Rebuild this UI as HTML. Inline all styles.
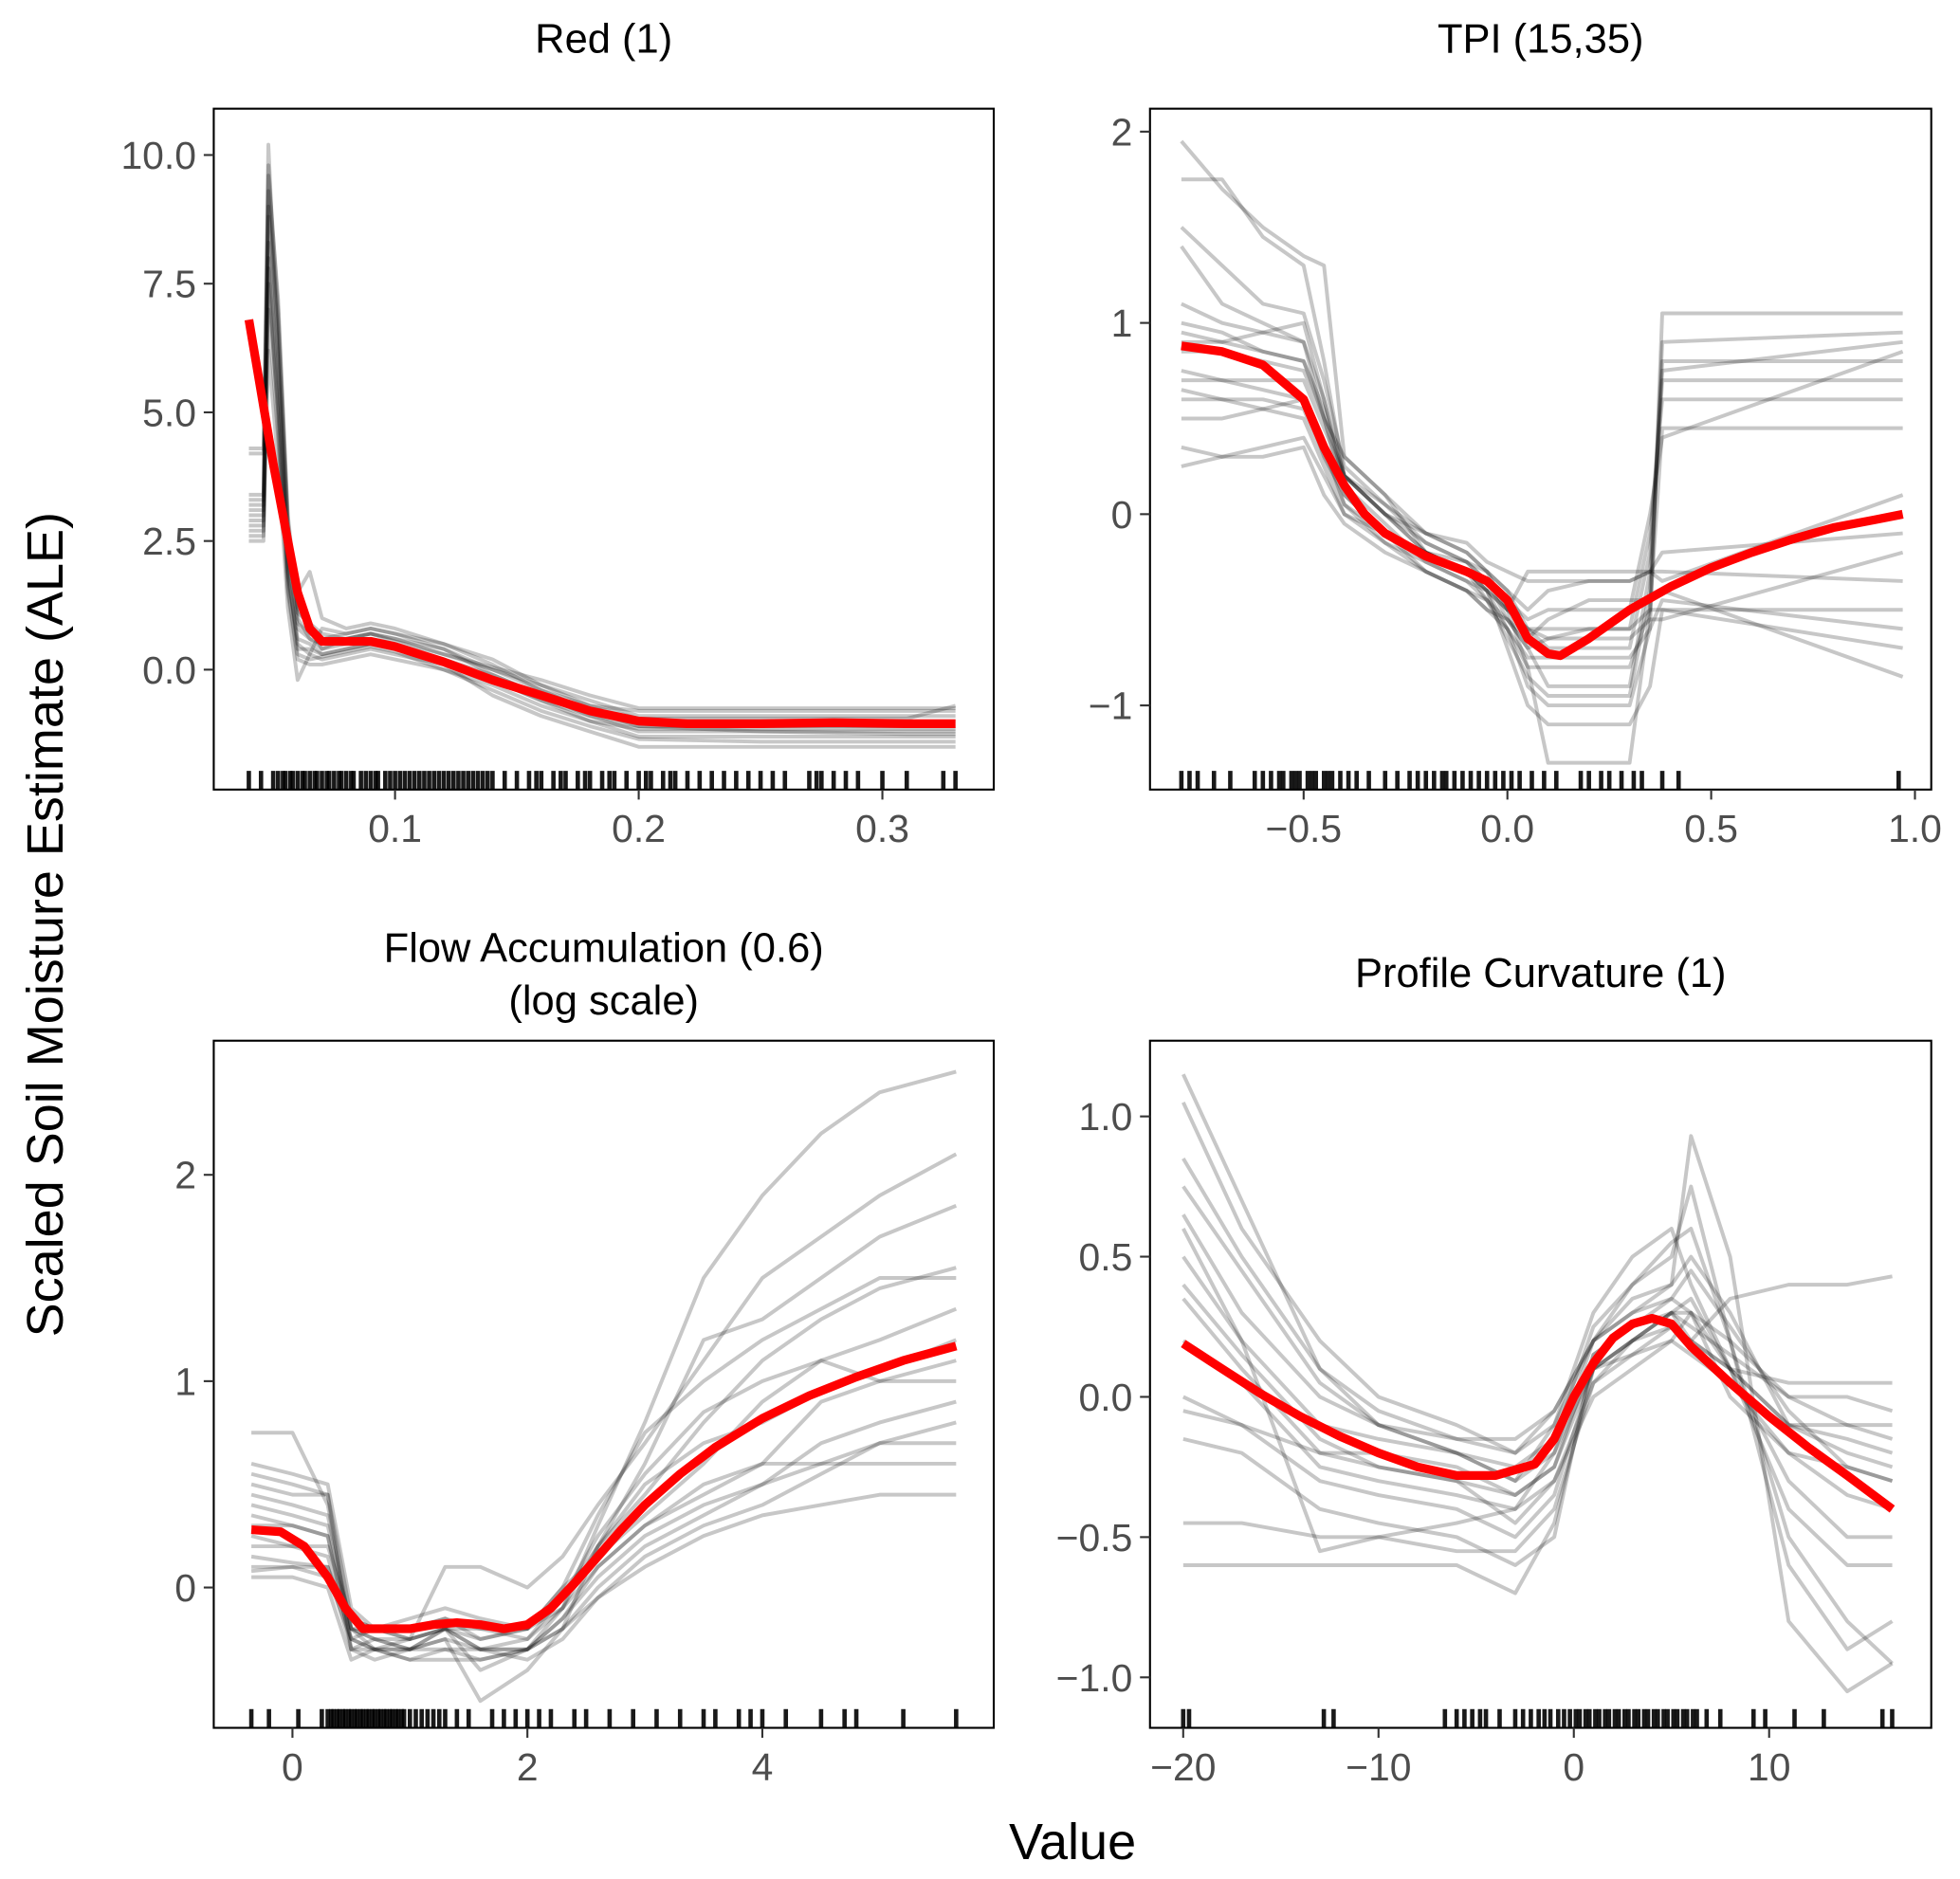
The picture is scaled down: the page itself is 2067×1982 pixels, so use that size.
<!DOCTYPE html>
<html><head><meta charset="utf-8"><style>
html,body{margin:0;padding:0;background:#fff;}
svg{display:block;}
text{font-family:"Liberation Sans","DejaVu Sans",sans-serif;}
</style></head><body>
<svg id="chart" width="2067" height="1982" viewBox="0 0 1568 1504" preserveAspectRatio="none" xmlns="http://www.w3.org/2000/svg">
<text x="50" y="740" font-size="41" text-anchor="middle" fill="#000" transform="rotate(-90 50 740)">Scaled Soil Moisture Estimate (ALE)</text>
<text x="858" y="1488" font-size="41" text-anchor="middle" fill="#000">Value</text>
</svg>
<script>
// ---------- Panel 1: Red (1) ----------
const p1Ticks=[0,2.5,5,7.5,10]; const p1TickLabels=["0.0","2.5","5.0","7.5","10.0"];
const p1XTicks=[0.1,0.2,0.3]; const p1XTickLabels=["0.1","0.2","0.3"];
const p1RedX=[0.04,0.05,0.06,0.065,0.07,0.08,0.09,0.1,0.12,0.14,0.16,0.18,0.2,0.22,0.25,0.28,0.31,0.33];
const p1RedY=[6.8,4,1.5,0.8,0.55,0.55,0.55,0.45,0.15,-0.2,-0.5,-0.8,-1.0,-1.05,-1.05,-1.03,-1.05,-1.05];
const p1GrayX=[0.04,0.046,0.048,0.052,0.056,0.06,0.065,0.07,0.08,0.09,0.1,0.12,0.14,0.16,0.18,0.2,0.25,0.31,0.33];
const p1Gray=[
[4.3,4.3,10.2,6,2.5,1.0,0.6,0.5,0.6,0.7,0.6,0.4,0.0,-0.3,-0.6,-0.9,-0.9,-0.9,-0.9],
[3.3,3.3,9.6,7.2,3,1.2,0.8,0.4,0.5,0.6,0.5,0.2,-0.1,-0.5,-0.8,-1.0,-1.0,-1.0,-1.0],
[3.0,3.0,8.3,5.5,2.0,0.5,0.3,0.2,0.3,0.4,0.3,0.1,-0.2,-0.6,-0.9,-1.1,-1.2,-1.2,-1.2],
[2.8,2.8,7.0,4.5,1.5,0.2,0.1,0.1,0.2,0.3,0.2,0.0,-0.3,-0.7,-1.0,-1.3,-1.3,-1.3,-1.3],
[2.6,2.6,6.2,4,1.2,-0.2,0.3,0.8,0.7,0.8,0.7,0.5,0.2,-0.3,-0.7,-0.8,-0.8,-0.8,-0.8],
[3.2,3.2,9.0,6.5,2.8,1.5,1.9,1.0,0.8,0.9,0.8,0.5,0.1,-0.4,-0.7,-0.95,-0.95,-0.95,-0.7],
[2.5,2.5,7.5,5,1.8,0.6,0.5,0.3,0.4,0.5,0.4,0.1,-0.5,-0.9,-1.2,-1.5,-1.5,-1.5,-1.5],
[4.2,4.2,8.8,6,2.2,0.8,0.6,0.4,0.6,0.7,0.6,0.3,0.0,-0.4,-0.8,-1.1,-1.1,-1.1,-1.1],
[3.1,3.1,9.3,6.8,2.6,0.9,0.7,0.6,0.7,0.8,0.7,0.4,-0.1,-0.5,-0.9,-1.2,-1.2,-1.25,-1.25],
[2.9,2.9,8.0,5.2,1.9,0.4,0.4,0.3,0.4,0.5,0.45,0.2,-0.2,-0.6,-1.0,-1.15,-1.15,-1.15,-1.15],
[3.4,3.4,9.8,7.0,2.9,1.1,0.9,0.7,0.6,0.7,0.55,0.3,0.05,-0.2,-0.5,-0.75,-0.75,-0.75,-0.75],
[2.7,2.7,7.8,4.8,1.6,0.3,0.2,0.25,0.35,0.45,0.35,0.0,-0.4,-0.8,-1.1,-1.35,-1.4,-1.4,-1.4]];
const p1Rug=[0.04,0.045,0.05,0.052,0.054,0.055,0.057,0.058,0.06,0.062,0.063,0.065,0.067,0.068,0.07,0.072,0.073,0.075,0.077,0.078,0.08,0.082,0.083,0.086,0.088,0.09,0.092,0.093,0.096,0.098,0.1,0.102,0.104,0.106,0.108,0.11,0.112,0.114,0.116,0.118,0.12,0.122,0.124,0.126,0.128,0.13,0.132,0.134,0.136,0.138,0.14,0.145,0.15,0.155,0.158,0.16,0.165,0.168,0.17,0.175,0.178,0.18,0.185,0.188,0.19,0.195,0.2,0.203,0.205,0.21,0.213,0.215,0.22,0.225,0.23,0.235,0.24,0.245,0.25,0.255,0.26,0.27,0.273,0.275,0.28,0.285,0.29,0.3,0.31,0.325,0.33];

// ---------- Panel 2: TPI ----------
const p2Ticks=[-1,0,1,2]; const p2TickLabels=["\u22121","0","1","2"];
const p2XTicks=[-0.5,0,0.5,1]; const p2XTickLabels=["\u22120.5","0.0","0.5","1.0"];
const p2RedX=[-0.8,-0.7,-0.6,-0.5,-0.45,-0.4,-0.35,-0.3,-0.2,-0.1,-0.05,0,0.05,0.1,0.13,0.2,0.3,0.4,0.5,0.6,0.7,0.8,0.9,0.97];
const p2RedY=[0.88,0.85,0.78,0.6,0.35,0.15,0.0,-0.1,-0.22,-0.3,-0.35,-0.45,-0.65,-0.73,-0.74,-0.65,-0.5,-0.38,-0.28,-0.2,-0.13,-0.07,-0.03,0.0];
const p2GrayX=[-0.8,-0.7,-0.6,-0.5,-0.45,-0.4,-0.3,-0.2,-0.1,-0.05,0,0.05,0.1,0.2,0.3,0.35,0.38,0.97];
const p2Gray=[
[1.95,1.7,1.5,1.35,1.3,0.3,0.1,-0.2,-0.3,-0.4,-0.6,-0.9,-1.0,-1.0,-1.0,-0.6,1.05,1.05],
[1.75,1.75,1.45,1.3,0.8,0.2,0.0,-0.1,-0.2,-0.3,-0.5,-0.8,-1.3,-1.3,-1.3,-0.5,0.9,0.95],
[1.4,1.1,1.0,0.9,0.5,0.3,0.1,-0.1,-0.2,-0.3,-0.4,-0.6,-0.7,-0.7,-0.7,-0.2,0.75,0.9],
[1.1,1.0,0.95,0.9,0.6,0.2,0.0,-0.2,-0.25,-0.35,-0.5,-0.6,-0.6,-0.6,-0.6,-0.1,0.6,0.6],
[0.9,0.9,0.85,0.8,0.5,0.1,-0.1,-0.2,-0.3,-0.35,-0.45,-0.55,-0.5,-0.5,-0.5,0.0,0.4,0.85],
[0.6,0.6,0.6,0.55,0.3,0.1,-0.1,-0.3,-0.4,-0.5,-0.6,-0.8,-0.8,-0.8,-0.8,-0.5,0.45,0.45],
[0.35,0.3,0.35,0.4,0.2,0.0,-0.1,-0.2,-0.3,-0.4,-0.5,-0.3,-0.3,-0.3,-0.3,-0.3,-0.35,0.1],
[0.25,0.3,0.3,0.35,0.1,-0.05,-0.2,-0.3,-0.4,-0.5,-0.55,-0.65,-0.55,-0.45,-0.45,-0.45,-0.4,-0.85],
[0.75,0.7,0.65,0.6,0.3,0.05,-0.1,-0.2,-0.3,-0.45,-0.6,-0.75,-0.75,-0.75,-0.75,-0.6,-0.45,-0.6],
[0.85,0.85,0.8,0.75,0.5,0.2,0.0,-0.15,-0.25,-0.3,-0.4,-0.5,-0.4,-0.35,-0.35,-0.3,-0.2,-0.1],
[1.0,0.95,0.85,0.8,0.55,0.2,0.05,-0.1,-0.15,-0.25,-0.3,-0.35,-0.35,-0.35,-0.35,-0.3,-0.3,-0.35],
[0.7,0.7,0.7,0.7,0.45,0.2,0.0,-0.2,-0.3,-0.4,-0.7,-1.0,-1.1,-1.1,-1.1,-0.9,-0.5,-0.7],
[1.5,1.3,1.1,1.05,0.7,0.25,0.05,-0.15,-0.25,-0.35,-0.55,-0.7,-0.9,-0.9,-0.9,-0.3,0.7,0.7],
[0.95,0.9,0.95,1.0,0.6,0.15,-0.05,-0.25,-0.35,-0.45,-0.65,-0.85,-0.95,-0.95,-0.95,-0.4,0.8,0.8],
[0.5,0.5,0.55,0.6,0.35,0.05,-0.15,-0.3,-0.4,-0.45,-0.55,-0.7,-0.65,-0.6,-0.6,-0.5,-0.5,-0.5],
[0.65,0.6,0.55,0.5,0.25,0.0,-0.15,-0.25,-0.35,-0.4,-0.5,-0.6,-0.65,-0.65,-0.65,-0.55,-0.55,-0.2]];
const p2Rug=[-0.8,-0.78,-0.76,-0.72,-0.68,-0.62,-0.6,-0.58,-0.56,-0.55,-0.53,-0.52,-0.51,-0.49,-0.48,-0.47,-0.45,-0.44,-0.43,-0.41,-0.39,-0.37,-0.34,-0.3,-0.27,-0.24,-0.22,-0.2,-0.18,-0.16,-0.15,-0.13,-0.11,-0.09,-0.07,-0.05,-0.03,-0.01,0.01,0.03,0.06,0.09,0.12,0.18,0.2,0.23,0.25,0.28,0.31,0.33,0.38,0.42,0.96];

// ---------- Panel 3: Flow Accumulation ----------
const p3Ticks=[0,1,2]; const p3TickLabels=["0","1","2"];
const p3XTicks=[0,2,4]; const p3XTickLabels=["0","2","4"];
const p3RedX=[-0.35,-0.1,0.1,0.3,0.45,0.6,0.8,1.0,1.2,1.4,1.6,1.8,2.0,2.2,2.4,2.6,2.8,3.0,3.3,3.6,4.0,4.4,4.8,5.2,5.65];
const p3RedY=[0.28,0.27,0.2,0.05,-0.1,-0.2,-0.2,-0.2,-0.18,-0.17,-0.18,-0.2,-0.18,-0.1,0.02,0.15,0.28,0.4,0.55,0.68,0.82,0.93,1.02,1.1,1.17];
const p3GrayX=[-0.35,0.0,0.3,0.5,0.7,1.0,1.3,1.6,2.0,2.3,2.6,3.0,3.5,4.0,4.5,5.0,5.65];
const p3Gray=[
[0.75,0.75,0.4,-0.2,-0.25,-0.3,-0.2,-0.3,-0.25,-0.1,0.3,0.8,1.5,1.9,2.2,2.4,2.5],
[0.6,0.55,0.5,-0.1,-0.2,-0.25,0.1,0.1,0.0,0.15,0.4,0.7,1.1,1.5,1.7,1.9,2.1],
[0.5,0.45,0.45,-0.3,-0.3,-0.3,-0.2,-0.4,-0.3,-0.2,0.2,0.6,1.2,1.3,1.5,1.7,1.85],
[0.35,0.3,0.25,-0.25,-0.2,-0.2,-0.15,-0.2,-0.2,-0.05,0.2,0.45,0.8,1.1,1.3,1.45,1.55],
[0.25,0.2,0.2,-0.15,-0.2,-0.15,-0.1,-0.15,-0.2,0.0,0.15,0.35,0.6,0.9,1.1,1.2,1.35],
[0.1,0.1,0.1,-0.2,-0.3,-0.25,-0.2,-0.3,-0.3,-0.15,0.1,0.3,0.45,0.6,0.9,1.0,1.1],
[0.05,0.05,0.0,-0.35,-0.3,-0.3,-0.25,-0.55,-0.4,-0.2,0.0,0.2,0.35,0.5,0.7,0.8,0.9],
[0.15,0.12,0.1,-0.3,-0.25,-0.3,-0.3,-0.35,-0.3,-0.2,-0.05,0.15,0.3,0.4,0.55,0.7,0.8],
[0.4,0.35,0.3,-0.2,-0.2,-0.25,-0.2,-0.25,-0.2,-0.1,0.1,0.3,0.5,0.6,0.6,0.6,0.6],
[0.2,0.2,0.15,-0.25,-0.3,-0.35,-0.3,-0.3,-0.35,-0.25,-0.05,0.1,0.25,0.35,0.4,0.45,0.45],
[0.55,0.5,0.45,-0.15,-0.2,-0.2,-0.15,-0.25,-0.2,0.0,0.35,0.75,1.0,1.2,1.35,1.5,1.5],
[0.3,0.3,0.25,-0.3,-0.35,-0.3,-0.25,-0.3,-0.3,-0.1,0.2,0.5,0.7,0.8,0.95,1.05,1.2],
[0.08,0.1,0.05,-0.25,-0.3,-0.35,-0.35,-0.35,-0.3,-0.15,0.05,0.25,0.4,0.5,0.6,0.7,0.7],
[0.45,0.4,0.35,-0.2,-0.25,-0.25,-0.2,-0.2,-0.25,-0.05,0.25,0.55,0.85,1.0,1.1,1.0,1.0]];
const p3Rug=[-0.35,-0.2,0.05,0.25,0.3,0.33,0.35,0.38,0.4,0.43,0.45,0.48,0.5,0.53,0.55,0.58,0.6,0.63,0.65,0.68,0.7,0.73,0.75,0.78,0.8,0.83,0.85,0.88,0.9,0.93,0.95,1.0,1.05,1.1,1.15,1.2,1.25,1.3,1.4,1.5,1.7,1.8,1.9,2.0,2.1,2.2,2.4,2.5,2.7,2.9,3.1,3.3,3.5,3.6,3.8,3.9,4.0,4.2,4.5,4.7,4.8,5.2,5.65];

// ---------- Panel 4: Profile Curvature ----------
const p4Ticks=[-1,-0.5,0,0.5,1]; const p4TickLabels=["\u22121.0","\u22120.5","0.0","0.5","1.0"];
const p4XTicks=[-20,-10,0,10]; const p4XTickLabels=["\u221220","\u221210","0","10"];
const p4RedX=[-20,-18,-16,-14,-12,-10,-8,-6,-4,-2,-1,0,1,2,3,4,5,6,8,10,12,14,16.3];
const p4RedY=[0.19,0.1,0.01,-0.07,-0.14,-0.2,-0.25,-0.28,-0.28,-0.24,-0.15,0.0,0.12,0.21,0.26,0.28,0.26,0.18,0.05,-0.07,-0.18,-0.28,-0.4];
const p4GrayX=[-20,-17,-13,-10,-6,-3,-1,1,3,5,6,8,11,14,16.3];
const p4Gray=[
[1.15,0.7,0.1,-0.05,-0.15,-0.2,-0.1,0.2,0.35,0.4,0.93,0.5,-0.8,-1.05,-0.95],
[1.05,0.6,0.2,0.0,-0.1,-0.2,-0.05,0.2,0.4,0.5,0.75,0.2,-0.6,-0.9,-0.8],
[0.85,0.5,0.1,-0.1,-0.2,-0.3,-0.1,0.3,0.5,0.6,0.4,0.1,-0.4,-0.6,-0.6],
[0.65,0.3,0.0,-0.1,-0.15,-0.15,-0.05,0.2,0.3,0.35,0.3,0.0,-0.2,-0.35,-0.4],
[0.5,0.2,-0.1,-0.15,-0.2,-0.3,-0.2,0.1,0.2,0.3,0.3,0.2,0.0,-0.1,-0.15],
[0.35,0.1,-0.2,-0.2,-0.25,-0.35,-0.25,0.1,0.15,0.25,0.2,0.1,-0.1,-0.2,-0.25],
[0.2,0.05,-0.25,-0.3,-0.35,-0.4,-0.3,0.0,0.1,0.2,0.15,0.05,-0.2,-0.25,-0.3],
[0.0,-0.1,-0.3,-0.35,-0.4,-0.5,-0.35,0.1,0.2,0.25,0.2,0.1,0.05,0.05,0.05],
[-0.15,-0.2,-0.4,-0.45,-0.5,-0.6,-0.5,0.15,0.25,0.3,0.2,0.35,0.4,0.4,0.43],
[-0.45,-0.45,-0.5,-0.5,-0.55,-0.55,-0.4,0.05,0.15,0.2,0.3,0.1,-0.1,-0.15,-0.2],
[-0.6,-0.6,-0.6,-0.6,-0.6,-0.7,-0.45,0.1,0.2,0.3,0.35,0.1,-0.3,-0.5,-0.5],
[0.6,0.2,-0.55,-0.5,-0.45,-0.4,-0.2,0.2,0.3,0.4,0.5,0.3,-0.1,-0.1,-0.1],
[0.75,0.45,0.05,-0.1,-0.2,-0.25,-0.15,0.25,0.4,0.55,0.6,0.2,-0.5,-0.8,-0.95],
[0.4,0.15,-0.15,-0.25,-0.3,-0.35,-0.25,0.15,0.25,0.35,0.45,0.25,-0.05,-0.25,-0.3],
[-0.05,-0.1,-0.2,-0.25,-0.3,-0.45,-0.3,0.05,0.2,0.3,0.25,0.15,0.0,0.0,-0.05]];
const p4Rug=[-20,-19.7,-12.8,-12.3,-6.6,-6,-5.6,-5.2,-4.8,-4.5,-3.8,-3,-2.6,-2.2,-1.8,-1.5,-1.2,-0.8,-0.5,-0.2,0.1,0.3,0.6,0.8,1.1,1.3,1.6,1.8,2.1,2.3,2.6,2.8,3.1,3.3,3.6,3.8,4.1,4.3,4.6,4.8,5.1,5.3,5.6,5.8,6.1,6.3,6.8,7.5,9.2,9.8,11.3,12.8,15.8,16.3];

const NS="http://www.w3.org/2000/svg";
const svg=document.getElementById('chart');
function mk(tag,attrs,parent){const e=document.createElementNS(NS,tag);for(const k in attrs)e.setAttribute(k,attrs[k]);(parent||svg).appendChild(e);return e;}

function panel(cfg){
  const {L,R,T,B,xMin,xMax,yMin,yMax}=cfg;
  const sx=v=>L+(v-xMin)/(xMax-xMin)*(R-L);
  const sy=v=>B-(v-yMin)/(yMax-yMin)*(B-T);
  const g=mk('g',{});
  
  
  const t=mk('text',{x:(L+R)/2,y:cfg.titleY,'font-size':33,'text-anchor':'middle',fill:'#000'},g);
  t.textContent=cfg.title;
  
  
  if(cfg.title2){const t2=mk('text',{x:(L+R)/2,y:cfg.titleY+42,'font-size':33,'text-anchor':'middle',fill:'#000'},g);t2.textContent=cfg.title2;
    
    }
  const clipId='clip'+cfg.name;
  const cp=mk('clipPath',{id:clipId},g);mk('rect',{x:L,y:T,width:R-L,height:B-T},cp);
  const lines=mk('g',{'clip-path':'url(#'+clipId+')'},g);
  cfg.gray.forEach((ys)=>{
    const d=ys.map((y,i)=>(i?'L':'M')+sx(cfg.grayX[i]).toFixed(1)+','+sy(y).toFixed(1)).join('');
    const p=mk('path',{d:d,fill:'none',stroke:'rgba(0,0,0,0.22)','stroke-width':3,'stroke-linejoin':'round'},lines);
    
    
  });
  cfg.rug.forEach(v=>{
    const r=mk('line',{x1:sx(v),x2:sx(v),y1:B-15,y2:B,stroke:'rgba(0,0,0,0.9)','stroke-width':3.5},lines);
    
    
  });
  const rd=cfg.redY.map((y,i)=>(i?'L':'M')+sx(cfg.redX[i]).toFixed(1)+','+sy(y).toFixed(1)).join('');
  const red=mk('path',{d:rd,fill:'none',stroke:'#ff0000','stroke-width':7,'stroke-linejoin':'round','stroke-linecap':'butt'},lines);
  
  
  const fr=mk('rect',{x:L,y:T,width:R-L,height:B-T,fill:'none',stroke:'#000','stroke-width':1.6},g);
  
  
  cfg.yTicks.forEach((v,i)=>{
    mk('line',{x1:L-8,x2:L,y1:sy(v),y2:sy(v),stroke:'#333','stroke-width':1.6},g);
    const tl=mk('text',{x:L-14,y:sy(v)+11,'font-size':31,'text-anchor':'end',fill:'#4d4d4d'},g);
    tl.textContent=cfg.yLabels[i];
    
    
  });
  cfg.xTicks.forEach((v,i)=>{
    mk('line',{x1:sx(v),x2:sx(v),y1:B,y2:B+8,stroke:'#333','stroke-width':1.6},g);
    const tl=mk('text',{x:sx(v),y:B+42,'font-size':31,'text-anchor':'middle',fill:'#4d4d4d'},g);
    tl.textContent=cfg.xLabels[i];
    
    
  });
}
panel({name:'panel-red',title:'Red (1)',titleY:42,L:171,R:795,T:87,B:632,xMin:0.0256,xMax:0.3457,yMin:-2.33,yMax:10.9,
  yTicks:p1Ticks,yLabels:p1TickLabels,xTicks:p1XTicks,xLabels:p1XTickLabels,redX:p1RedX,redY:p1RedY,grayX:p1GrayX,gray:p1Gray,rug:p1Rug});
panel({name:'panel-tpi',title:'TPI (15,35)',titleY:42,L:920,R:1545,T:87,B:632,xMin:-0.877,xMax:1.04,yMin:-1.44,yMax:2.12,
  yTicks:p2Ticks,yLabels:p2TickLabels,xTicks:p2XTicks,xLabels:p2XTickLabels,redX:p2RedX,redY:p2RedY,grayX:p2GrayX,gray:p2Gray,rug:p2Rug});
panel({name:'panel-flow',title:'Flow Accumulation (0.6)',title2:'(log scale)',titleY:770,L:171,R:795,T:833,B:1383,xMin:-0.67,xMax:5.97,yMin:-0.68,yMax:2.65,
  yTicks:p3Ticks,yLabels:p3TickLabels,xTicks:p3XTicks,xLabels:p3XTickLabels,redX:p3RedX,redY:p3RedY,grayX:p3GrayX,gray:p3Gray,rug:p3Rug});
panel({name:'panel-curvature',title:'Profile Curvature (1)',titleY:790,L:920,R:1545,T:833,B:1383,xMin:-21.7,xMax:18.3,yMin:-1.18,yMax:1.27,
  yTicks:p4Ticks,yLabels:p4TickLabels,xTicks:p4XTicks,xLabels:p4XTickLabels,redX:p4RedX,redY:p4RedY,grayX:p4GrayX,gray:p4Gray,rug:p4Rug});
</script>
</body></html>
